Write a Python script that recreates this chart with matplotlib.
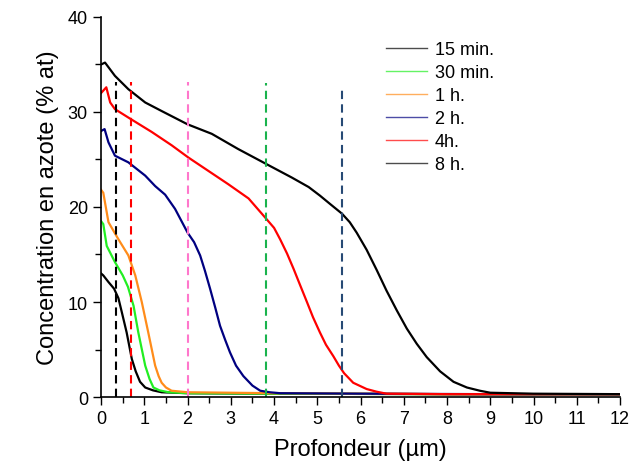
import matplotlib.pyplot as plt
from matplotlib.ticker import MultipleLocator

plt.rcParams['font.family'] = ['Liberation Sans', 'DejaVu Sans']

# nitrogen profiles (depth in µm, concentration in % at)
x_15min = [0.0, 0.05, 0.17, 0.30, 0.40, 0.48, 0.59, 0.71, 0.80, 0.90, 1.02, 1.20, 1.40, 2.0, 4.0, 8.0, 12.0]
y_15min = [13.0, 12.8, 12.1, 11.4, 10.4, 8.9, 6.8, 4.0, 2.7, 1.6, 1.0, 0.7, 0.5, 0.4, 0.35, 0.3, 0.3]

x_30min = [0.0, 0.05, 0.13, 0.32, 0.50, 0.62, 0.75, 0.86, 1.02, 1.12, 1.21, 1.35, 1.56, 2.0, 4.0, 8.0, 12.0]
y_30min = [18.5, 18.2, 15.9, 14.2, 12.8, 11.6, 9.6, 6.8, 3.3, 1.9, 1.0, 0.7, 0.5, 0.4, 0.35, 0.3, 0.3]

x_1h = [0.0, 0.05, 0.17, 0.40, 0.63, 0.79, 0.94, 1.09, 1.25, 1.33, 1.40, 1.50, 1.63, 2.0, 4.0, 8.0, 12.0]
y_1h = [21.8, 21.5, 18.4, 16.6, 14.9, 12.8, 10.0, 6.8, 3.3, 2.2, 1.5, 1.0, 0.66, 0.5, 0.4, 0.3, 0.3]

x_2h = [0.0, 0.08, 0.17, 0.32, 0.63, 1.02, 1.25, 1.48, 1.71, 2.0, 2.15, 2.29, 2.40, 2.52, 2.64, 2.75,
        2.87, 2.98, 3.12, 3.29, 3.50, 3.68, 3.90, 4.14, 6.0, 9.0, 12.0]
y_2h = [28.0, 28.2, 26.8, 25.4, 24.7, 23.3, 22.2, 21.3, 19.8, 17.3, 16.3, 14.9, 13.3, 11.4, 9.4, 7.5,
        6.0, 4.7, 3.3, 2.2, 1.2, 0.66, 0.5, 0.4, 0.35, 0.3, 0.3]

x_4h = [0.0, 0.12, 0.21, 0.32, 0.67, 1.17, 1.63, 2.02, 2.48, 2.94, 3.41, 3.83, 4.00, 4.14,
        4.30, 4.45, 4.60, 4.76, 4.90, 5.06, 5.20, 5.37, 5.50, 5.62, 5.83, 6.14, 6.37, 6.6, 8.0, 12.0]
y_4h = [32.0, 32.6, 31.0, 30.3, 29.3, 27.9, 26.5, 25.2, 23.8, 22.4, 20.9, 18.7, 17.8, 16.6,
        15.1, 13.5, 11.8, 10.0, 8.4, 6.8, 5.5, 4.3, 3.3, 2.5, 1.5, 0.84, 0.56, 0.35, 0.3, 0.3]

x_8h = [0.0, 0.09, 0.32, 0.63, 1.02, 1.40, 2.0, 2.56, 3.17, 3.83, 4.41, 4.80, 5.06,
        5.30, 5.57, 5.75, 5.91, 6.14, 6.37, 6.60, 6.84, 7.07, 7.30, 7.53, 7.84, 8.15, 8.46,
        8.76, 9.0, 10.0, 12.0]
y_8h = [35.0, 35.2, 33.8, 32.4, 31.0, 30.1, 28.7, 27.7, 26.1, 24.5, 23.1, 22.1, 21.2,
        20.3, 19.3, 18.4, 17.3, 15.5, 13.4, 11.2, 9.1, 7.2, 5.6, 4.2, 2.7, 1.6, 1.0,
        0.66, 0.45, 0.35, 0.3]

labels = ['15 min.', '30 min.', '1 h.', '2 h.', '4h.', '8 h.']

# dashed markers
vline_x = [0.35, 0.69, 2.01, 3.81, 5.57]
vline_top = [33.2, 33.2, 33.2, 33.0, 32.7]

curve_colors = ['black', '#22ee22', '#ff8c1a', '#000080', '#ff0000', 'black']
vline_colors = ['black', '#ff0000', '#ff77cc', '#1ab34d', '#274a75']

fig = plt.figure(figsize=(6.32, 4.77), dpi=100)
ax = fig.add_axes([0.160, 0.1656, 0.821, 0.7967])

xs = [x_15min, x_30min, x_1h, x_2h, x_4h, x_8h]
ys = [y_15min, y_30min, y_1h, y_2h, y_4h, y_8h]
for xv, yv, c, lab in zip(xs, ys, curve_colors, labels):
    ax.plot(xv, yv, color=c, lw=1.6, label=lab)

for xv, top, c in zip(vline_x, vline_top, vline_colors):
    ax.plot([xv, xv], [0, top], color=c, lw=1.5, dashes=(4, 2.5))

ax.set_xlim(0, 12)
ax.set_ylim(0, 40)
ax.xaxis.set_major_locator(MultipleLocator(1))
ax.xaxis.set_minor_locator(MultipleLocator(0.5))
ax.yaxis.set_major_locator(MultipleLocator(10))
ax.yaxis.set_minor_locator(MultipleLocator(5))
ax.tick_params(which='major', length=6, width=1, labelsize=13, direction='out')
ax.tick_params(which='minor', length=4, width=1, direction='out')
for s in ['top', 'right']:
    ax.spines[s].set_visible(False)
for s in ['left', 'bottom']:
    ax.spines[s].set_linewidth(1.2)

ax.set_xlabel('Profondeur (µm)', fontsize=17, labelpad=8)
ax.set_ylabel('Concentration en azote (% at)', fontsize=17, labelpad=6)

leg = ax.legend(loc='upper left', bbox_to_anchor=(0.585, 0.945),
                bbox_transform=fig.transFigure, frameon=False, fontsize=13,
                handlelength=2.3, handletextpad=0.4, labelspacing=0.33)
for h in leg.get_lines():
    h.set_linewidth(1.0)
    h.set_alpha(0.7)

fig.savefig('out.png', dpi=100)
